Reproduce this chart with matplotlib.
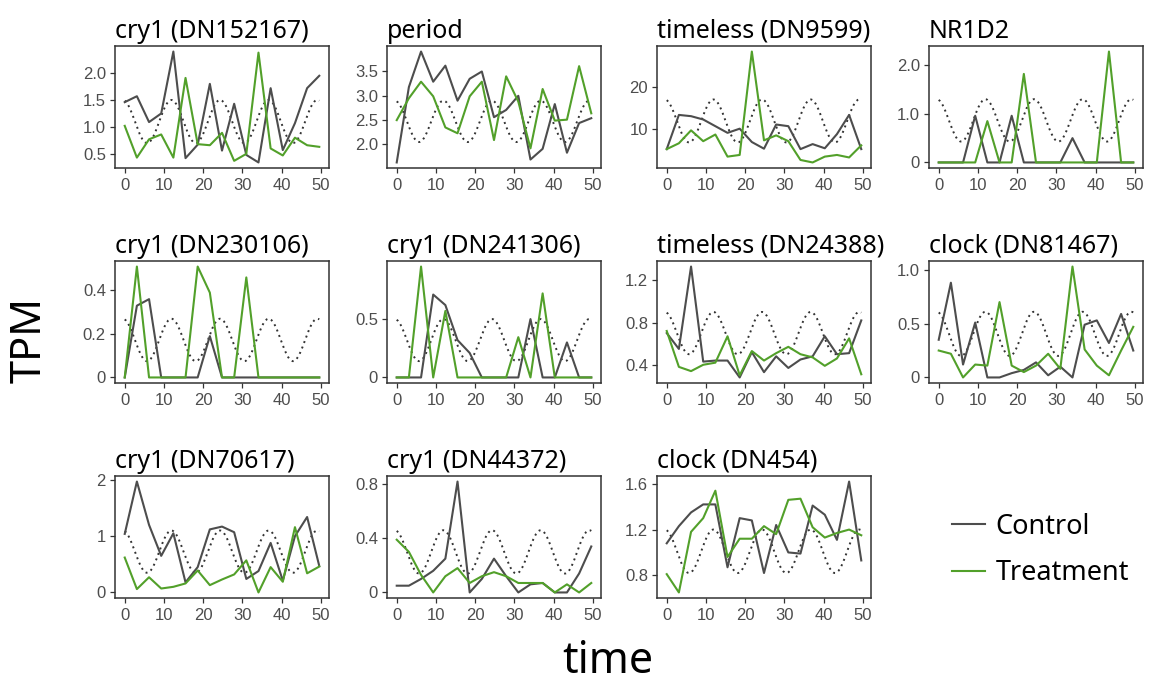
import numpy as np
import matplotlib
matplotlib.use("Agg")
import matplotlib.pyplot as plt
from matplotlib.lines import Line2D

# sampling times (h)
time = [0, 3.1, 6.2, 9.3, 12.4, 15.5, 18.6, 21.7, 24.8, 27.9, 31.0,
        34.1, 37.2, 40.3, 43.4, 46.5, 49.6]

titles = ["cry1 (DN152167)", "period", "timeless (DN9599)", "NR1D2",
          "cry1 (DN230106)", "cry1 (DN241306)", "timeless (DN24388)", "clock (DN81467)",
          "cry1 (DN70617)", "cry1 (DN44372)", "clock (DN454)"]

control = [
    [1.46, 1.57, 1.09, 1.25, 2.40, 0.42, 0.67, 1.80, 0.56, 1.43, 0.48, 0.34, 1.72, 0.57, 1.07, 1.72, 1.95],
    [1.63, 3.18, 3.91, 3.29, 3.62, 2.90, 3.35, 3.50, 2.56, 2.71, 3.00, 1.69, 1.91, 2.83, 1.83, 2.44, 2.54],
    [5.1, 13.3, 13.0, 12.2, 10.6, 9.0, 10.0, 6.8, 5.2, 11.0, 10.6, 5.1, 6.3, 5.3, 8.7, 13.3, 5.1],
    [0, 0, 0, 0.96, 0, 0, 0.96, 0, 0, 0, 0, 0.50, 0, 0, 0, 0, 0],
    [0, 0.33, 0.36, 0, 0, 0, 0, 0.19, 0, 0, 0, 0, 0, 0, 0, 0, 0],
    [0, 0, 0, 0.71, 0.62, 0.32, 0.21, 0, 0, 0, 0, 0.50, 0, 0, 0.30, 0, 0],
    [0.70, 0.55, 1.33, 0.43, 0.44, 0.44, 0.28, 0.52, 0.33, 0.48, 0.37, 0.45, 0.48, 0.67, 0.50, 0.51, 0.82],
    [0.35, 0.88, 0.12, 0.51, 0, 0, 0.04, 0.07, 0.14, 0.02, 0.10, 0, 0.49, 0.53, 0.32, 0.59, 0.25],
    [1.04, 1.97, 1.20, 0.65, 1.05, 0.18, 0.45, 1.12, 1.17, 1.07, 0.24, 0.38, 0.88, 0.21, 1.00, 1.34, 0.47],
    [0.05, 0.05, 0.10, 0.16, 0.25, 0.82, 0, 0.10, 0.25, 0.12, 0, 0.06, 0.07, 0, 0, 0.14, 0.34],
    [1.08, 1.23, 1.35, 1.42, 1.42, 0.87, 1.30, 1.28, 0.82, 1.24, 1.00, 0.99, 1.41, 1.33, 1.11, 1.62, 0.93],
]

treatment = [
    [1.02, 0.43, 0.77, 0.86, 0.43, 1.91, 0.68, 0.66, 0.89, 0.37, 0.50, 2.38, 0.60, 0.47, 0.80, 0.66, 0.63],
    [2.50, 2.95, 3.29, 2.99, 2.35, 2.23, 2.99, 3.29, 2.09, 3.40, 2.88, 1.92, 3.14, 2.49, 2.51, 3.61, 2.64],
    [5.1, 6.5, 9.6, 7.0, 8.6, 3.3, 3.7, 28.5, 7.2, 8.4, 7.0, 2.5, 1.9, 3.3, 3.7, 3.1, 6.0],
    [0, 0, 0, 0, 0.85, 0, 0, 1.82, 0, 0, 0, 0, 0, 0, 2.28, 0, 0],
    [0, 0.51, 0, 0, 0, 0, 0.51, 0.39, 0, 0, 0.46, 0, 0, 0, 0, 0, 0],
    [0, 0, 0.95, 0, 0.57, 0, 0, 0, 0, 0, 0.345, 0, 0.72, 0, 0, 0, 0],
    [0.72, 0.38, 0.34, 0.40, 0.42, 0.67, 0.30, 0.53, 0.44, 0.51, 0.57, 0.50, 0.47, 0.39, 0.46, 0.65, 0.31],
    [0.25, 0.22, 0, 0.12, 0.11, 0.70, 0.11, 0.05, 0.11, 0.22, 0.08, 1.03, 0.26, 0.11, 0.02, 0.25, 0.47],
    [0.62, 0.06, 0.27, 0.07, 0.10, 0.16, 0.39, 0.13, 0.23, 0.32, 0.57, 0, 0.45, 0.19, 1.16, 0.34, 0.46],
    [0.39, 0.30, 0.13, 0, 0.12, 0.18, 0.07, 0.12, 0.15, 0.12, 0.07, 0.07, 0.07, 0, 0.06, 0, 0.07],
    [0.81, 0.65, 1.18, 1.30, 1.54, 0.96, 1.12, 1.12, 1.23, 1.16, 1.46, 1.47, 1.22, 1.13, 1.17, 1.20, 1.15],
]

# cosinor fit (dotted line): max / min of fitted curve, period and peak time
fit_max = [1.50, 2.90, 17.0, 1.30, 0.27, 0.50, 0.90, 0.61, 1.10, 0.46, 1.20]
fit_min = [0.70, 2.05, 6.7, 0.43, 0.075, 0.14, 0.50, 0.20, 0.35, 0.14, 0.82]
fit_period = 12.4
fit_peak = -0.5

yticks = [[0.5, 1.0, 1.5, 2.0], [2.0, 2.5, 3.0, 3.5], [10, 20], [0, 1.0, 2.0],
          [0, 0.2, 0.4], [0, 0.5], [0.4, 0.8, 1.2], [0, 0.5, 1.0],
          [0, 1, 2], [0, 0.4, 0.8], [0.8, 1.2, 1.6]]
yticklabels = [["0.5", "1.0", "1.5", "2.0"], ["2.0", "2.5", "3.0", "3.5"], ["10", "20"],
               ["0", "1.0", "2.0"], ["0", "0.2", "0.4"], ["0", "0.5"], ["0.4", "0.8", "1.2"],
               ["0", "0.5", "1.0"], ["0", "1", "2"], ["0", "0.4", "0.8"], ["0.8", "1.2", "1.6"]]

col_control = "#4d4d4d"
col_treat = "#52a02a"

W, H = 1151, 688
fig = plt.figure(figsize=(W / 100, H / 100), dpi=100)

lefts = [115, 387, 657, 929]
tops = [46, 261, 476]
pw, ph = 214, 122

t_fit = np.linspace(time[0], time[-1], 300)

for i, name in enumerate(titles):
    r, c = divmod(i, 4)
    ax = fig.add_axes([lefts[c] / W, 1 - (tops[r] + ph) / H, pw / W, ph / H])
    mesor = (fit_max[i] + fit_min[i]) / 2
    amp = (fit_max[i] - fit_min[i]) / 2
    ax.plot(t_fit, mesor + amp * np.cos(2 * np.pi * (t_fit - fit_peak) / fit_period),
            ls=(0, (1, 2)), color="#333333", lw=1.4)
    ax.plot(time, control[i], color=col_control, lw=1.5)
    ax.plot(time, treatment[i], color=col_treat, lw=1.5)
    ax.margins(x=0.05, y=0.05)
    ax.set_xticks([0, 10, 20, 30, 40, 50])
    ax.set_yticks(yticks[i])
    ax.set_yticklabels(yticklabels[i])
    for s in ax.spines.values():
        s.set_color("#333333")
        s.set_linewidth(1.1)
    ax.tick_params(colors="#333333", labelcolor="#4d4d4d", length=3.5, width=0.9,
                   labelsize=12)
    ax.tick_params(axis="x", pad=4)
    ax.tick_params(axis="y", pad=3)
    for lab in ax.get_xticklabels() + ax.get_yticklabels():
        lab.set_fontfamily("Liberation Sans")
    ax.set_title(name, loc="left", fontsize=18, family="Noto Sans", pad=6)

fig.text(30 / W, 1 - 340 / H, "TPM", rotation=90, ha="center", va="center",
         fontsize=30, family="Noto Sans")
fig.text(608 / W, 1 - 662 / H, "time", ha="center", va="center",
         fontsize=31, family="Noto Sans")

handles = [Line2D([], [], color=col_control, lw=1.5), Line2D([], [], color=col_treat, lw=1.5)]
fig.legend(handles, ["Control", "Treatment"], loc="center left",
           bbox_to_anchor=(928 / W, 1 - 550 / H), frameon=False,
           prop={"family": "Noto Sans", "size": 19.5}, handlelength=1.2,
           handletextpad=0.4, labelspacing=0.7)

fig.savefig("out.png", dpi=100)
